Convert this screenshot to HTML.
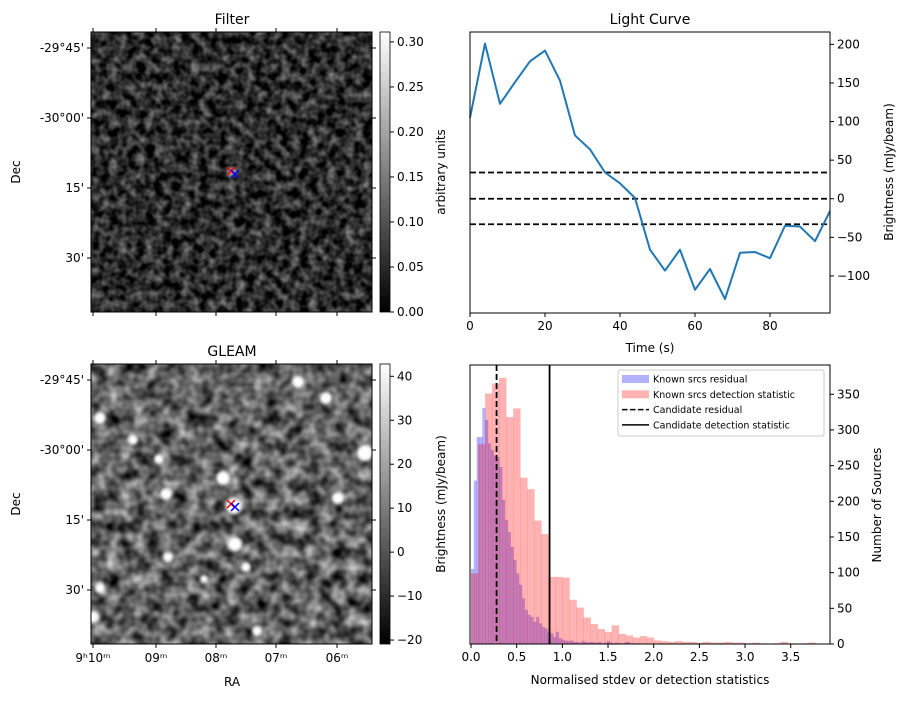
<!DOCTYPE html>
<html><head><meta charset="utf-8"><style>
body{margin:0;background:#fff}
svg{font-family:"DejaVu Sans","Liberation Sans",sans-serif;font-size:12px}
</style></head><body>
<svg id="s" width="907" height="699" viewBox="0 0 907 699">
<defs>
<filter id="nf" x="0" y="0" width="100%" height="100%" color-interpolation-filters="sRGB">
<feTurbulence type="fractalNoise" baseFrequency="0.11" numOctaves="2" seed="3"/>
<feColorMatrix type="matrix" values="0.85 0 0 0 -0.25  0.85 0 0 0 -0.25  0.85 0 0 0 -0.25  0 0 0 0 1"/>
</filter>
<filter id="gf" x="0" y="0" width="100%" height="100%" color-interpolation-filters="sRGB">
<feTurbulence type="fractalNoise" baseFrequency="0.075" numOctaves="2" seed="7"/>
<feColorMatrix type="matrix" values="1.1 0 0 0 -0.17  1.1 0 0 0 -0.17  1.1 0 0 0 -0.17  0 0 0 0 1"/>
</filter>
<filter id="blur1"><feGaussianBlur stdDeviation="1.5"/></filter>
<linearGradient id="cb" x1="0" y1="1" x2="0" y2="0"><stop offset="0" stop-color="#000"/><stop offset="1" stop-color="#fff"/></linearGradient>
</defs>
<g>
<rect x="91" y="32" width="281" height="280" fill="#fff" filter="url(#nf)"/>
<circle cx="232" cy="172" r="5" fill="#9a9a9a" filter="url(#blur1)"/>
<rect x="91" y="32" width="281" height="280" fill="none" stroke="#000"/>
</g>
<g>
<rect x="91" y="364" width="281" height="280" fill="#fff" filter="url(#gf)"/>
<g id="blobs" fill="#fff" filter="url(#blur1)"></g>
<rect x="91" y="364" width="281" height="280" fill="none" stroke="#000"/>
</g>
<g id="g"></g>
</svg>
<script>
// Light curve data
const lcTimes=[0,4,8,12,16,20,24,28,32,36,40,44,48,52,56,60,64,68,72,76,80,84,88,92,96];
const lcValues=[105,201,123,151,178,192,153,82,64,34,20,1,-66,-93,-66,-118,-91,-130,-70,-69,-77,-35,-36,-55,-16];
const lcThresholds=[34,0,-33];
const lcYTicks=[-100,-50,0,50,100,150,200];
const lcXTicks=[0,20,40,60,80];
// Histogram data
const redBinWidth=0.077;
const redCounts=[99,280,351,365,373,318,330,233,217,173,154,94,94,93,62,51,37,28,21,17,26,14,12,9,11,9,5,4,3,4,3,3,2,3,2,2,3,2,2,1,2,1,0,1,3,1,0,1,2];
const blueBinWidth=0.031;
const blueCounts=[105,229,290,290,331,314,281,272,264,262,248,202,174,157,136,118,99,83,64,48,41,38,31,38,29,24,22,17,15,10,17,8,6,5,4,5,3,3,2,4,3,2,3,2,2,3,1,2,4,2,1,2,1,1,2,3,1,1,1];
const candResidual=0.28;
const candDetection=0.86;
const histXTicks=[0,0.5,1,1.5,2,2.5,3,3.5];
const histYTicks=[0,50,100,150,200,250,300,350];
// Image axes
const raTicks=["9ʰ10ᵐ","09ᵐ","08ᵐ","07ᵐ","06ᵐ"];
const decTicks=["-29°45'","-30°00'","15'","30'"];
const filterCbTicks=[0,0.05,0.1,0.15,0.2,0.25,0.3];
const gleamCbTicks=[-20,-10,0,10,20,30,40];
const gleamBlobs=[[298,382,6],[326,398,6],[100,418,6],[133,440,5],[159,459,5],[223,478,7],[365,453,8],[166,494,6],[338,498,6],[234,506,8],[235,544,7],[168,557,5],[246,567,5],[204,579,4],[100,588,5],[93,617,6],[257,631,5]];

const NS="http://www.w3.org/2000/svg";
const G=document.getElementById('g');
function mk(t,a,p){const e=document.createElementNS(NS,t);for(const k in a)e.setAttribute(k,a[k]);(p||G).appendChild(e);return e;}
function tx(x,y,s,anchor,extra){const e=mk('text',Object.assign({x:x,y:y,'text-anchor':anchor||'middle'},extra||{}));e.textContent=s;return e;}

const B=document.getElementById('blobs');
gleamBlobs.forEach(b=>{const c=mk('circle',{cx:b[0],cy:b[1],r:b[2]},B);

});

function cross(x,y,col){const p=mk('path',{d:`M${x-4},${y-4}L${x+4},${y+4}M${x-4},${y+4}L${x+4},${y-4}`,stroke:col,'stroke-width':1.5,fill:'none'});

}
cross(231,171,'#f00');cross(235,174,'#00f');cross(231,504,'#f00');cross(235,507,'#00f');

let t;
t=tx(232,24,'Filter','middle',{'font-size':14});
t=tx(650,24,'Light Curve','middle',{'font-size':14});
t=tx(232,356,'GLEAM','middle',{'font-size':14});

const raX=[93,156,216,276,337];
[32,364].forEach((top,pi)=>{
  const bot=top+280;
  raX.forEach((x,i)=>{mk('line',{x1:x,y1:bot,x2:x,y2:bot+4,stroke:'#000'});mk('line',{x1:x,y1:top,x2:x,y2:top-4,stroke:'#000'});
    if(pi==1){t=tx(x,662,raTicks[i]);}});
  decTicks.forEach((d,i)=>{const y=top+16+i*70;mk('line',{x1:91,y1:y,x2:87,y2:y,stroke:'#000'});mk('line',{x1:372,y1:y,x2:376,y2:y,stroke:'#000'});
    t=tx(84,y+4,d,'end');});
  t=tx(20,top+140,'Dec','middle',{transform:`rotate(-90 20 ${top+140})`});
});
t=tx(232,686,'RA');

function cbar(top,ticks,vmin,vmax,fmt,label){
  const r=mk('rect',{x:380,y:top,width:10,height:280,fill:'url(#cb)',stroke:'#000','stroke-width':0.8});
  
  ticks.forEach(v=>{const y=top+280-(v-vmin)/(vmax-vmin)*280;mk('line',{x1:390,y1:y,x2:394,y2:y,stroke:'#000'});
    t=tx(397,y+4,fmt(v),'start');});
  t=tx(445,top+140,label,'middle',{transform:`rotate(-90 445 ${top+140})`});
}
cbar(32,filterCbTicks,0,0.311,v=>v.toFixed(2),'arbitrary units');
cbar(364,gleamCbTicks,-20.9,42.8,v=>String(v).replace('-','−'),'Brightness (mJy/beam)');

const L={x0:470,x1:830,y0:32,y1:313,xmin:0,xmax:96,ymin:-148,ymax:216};
const lx=v=>L.x0+(v-L.xmin)/(L.xmax-L.xmin)*(L.x1-L.x0);
const ly=v=>L.y1-(v-L.ymin)/(L.ymax-L.ymin)*(L.y1-L.y0);
lcThresholds.forEach(v=>{const l=mk('line',{x1:L.x0,x2:L.x1,y1:ly(v),y2:ly(v),stroke:'#000','stroke-width':1.8,'stroke-dasharray':'6,3'});
});
const lp=mk('polyline',{points:lcTimes.map((x,i)=>lx(x)+','+ly(lcValues[i])).join(' '),fill:'none',stroke:'#1f77b4','stroke-width':2,'stroke-linejoin':'round'});

mk('rect',{x:L.x0,y:L.y0,width:L.x1-L.x0,height:L.y1-L.y0,fill:'none',stroke:'#000'});
lcXTicks.forEach(v=>{mk('line',{x1:lx(v),x2:lx(v),y1:L.y1,y2:L.y1+4,stroke:'#000'});t=tx(lx(v),L.y1+17,String(v));});
lcYTicks.forEach(v=>{mk('line',{x1:L.x1,x2:L.x1+4,y1:ly(v),y2:ly(v),stroke:'#000'});t=tx(L.x1+7,ly(v)+4,String(v).replace('-','−'),'start');});
t=tx(650,352,'Time (s)');
t=tx(893,172,'Brightness (mJy/beam)','middle',{transform:'rotate(-90 893 172)'});

const H={x0:471,x1:830,y0:365,y1:644,xmin:0,xmax:3.93,ymin:0,ymax:391};
const hx=v=>H.x0+(v-H.xmin)/(H.xmax-H.xmin)*(H.x1-H.x0);
const hy=v=>H.y1-(v-H.ymin)/(H.ymax-H.ymin)*(H.y1-H.y0);
blueCounts.forEach((c,i)=>{if(!c)return;const r=mk('rect',{x:hx(i*blueBinWidth),y:hy(c),width:hx((i+1)*blueBinWidth)-hx(i*blueBinWidth)+0.3,height:H.y1-hy(c),fill:'#0000ff','fill-opacity':0.3});
});
redCounts.forEach((c,i)=>{if(!c)return;const r=mk('rect',{x:hx(i*redBinWidth),y:hy(c),width:hx((i+1)*redBinWidth)-hx(i*redBinWidth)+0.3,height:H.y1-hy(c),fill:'#ff0000','fill-opacity':0.3});
});
let cl=mk('line',{x1:hx(candResidual),x2:hx(candResidual),y1:H.y0,y2:H.y1,stroke:'#000','stroke-width':1.8,'stroke-dasharray':'6,3'});

cl=mk('line',{x1:hx(candDetection),x2:hx(candDetection),y1:H.y0,y2:H.y1,stroke:'#000','stroke-width':1.8});

mk('rect',{x:470,y:H.y0,width:H.x1-470,height:H.y1-H.y0,fill:'none',stroke:'#000'});
histXTicks.forEach(v=>{mk('line',{x1:hx(v),x2:hx(v),y1:H.y1,y2:H.y1+4,stroke:'#000'});t=tx(hx(v),H.y1+17,v.toFixed(1));});
histYTicks.forEach(v=>{mk('line',{x1:H.x1,x2:H.x1+4,y1:hy(v),y2:hy(v),stroke:'#000'});t=tx(H.x1+7,hy(v)+4,String(v),'start');});
t=tx(650,684,'Normalised stdev or detection statistics');
t=tx(881,505,'Number of Sources','middle',{transform:'rotate(-90 881 505)'});
const lg=mk('g',{});
mk('rect',{x:618,y:370,width:206,height:66,fill:'#fff','fill-opacity':0.8,stroke:'#ccc',rx:2},lg);
const items=[['Known srcs residual','b'],['Known srcs detection statistic','r'],['Candidate residual','d'],['Candidate detection statistic','s']];
items.forEach((it,i)=>{const y=379+i*15.3;
  if(it[1]=='b')mk('rect',{x:622,y:y-4,width:27,height:8,fill:'#0000ff','fill-opacity':0.3},lg);
  else if(it[1]=='r')mk('rect',{x:622,y:y-4,width:27,height:8,fill:'#ff0000','fill-opacity':0.3},lg);
  else mk('line',{x1:622,x2:649,y1:y,y2:y,stroke:'#000','stroke-width':1.5,'stroke-dasharray':it[1]=='d'?'5.5,2.5':'none'},lg);
  const e=mk('text',{x:653,y:y+3.5,'font-size':'9.5'},lg);e.textContent=it[0];
  
  });
</script>
</body></html>
